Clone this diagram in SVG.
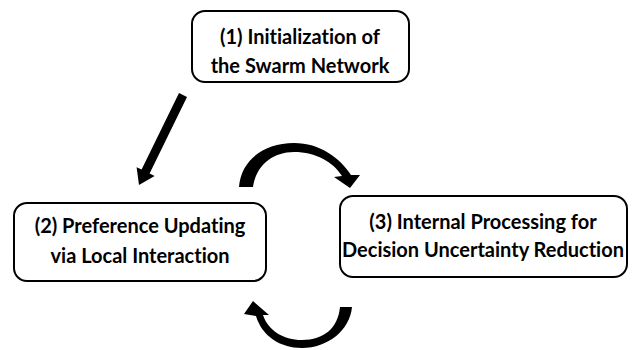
<svg xmlns="http://www.w3.org/2000/svg" width="637" height="350" viewBox="0 0 637 350">
<style>
.box{fill:#fff;stroke:#000;stroke-width:2}
.t{font-family:Lato,"Open Sans","Liberation Sans",sans-serif;font-weight:bold;font-size:20px;fill:#000;text-anchor:middle;font-variant-ligatures:none;font-feature-settings:"liga" 0}
.arr{fill:#000;stroke:none}
</style>
<rect width="637" height="350" fill="#fff"/>
<g id="node1">
<rect class="box" x="192" y="11" width="217" height="71" rx="13"/>
<text class="t" x="300" y="44">(1) Initialization of</text>
<text class="t" x="300" y="73">the Swarm Network</text>
</g>
<g id="node2">
<rect class="box" x="14" y="203" width="252" height="78" rx="13"/>
<text class="t" x="140" y="233">(2) Preference Updating</text>
<text class="t" x="140" y="263">via Local Interaction</text>
</g>
<g id="node3">
<rect class="box" x="340" y="196" width="287" height="81" rx="13"/>
<text class="t" x="483" y="229">(3) Internal Processing for</text>
<text class="t" x="483" y="257">Decision Uncertainty Reduction</text>
</g>
<g id="connectors">
<polygon class="arr" points="179,93 187,97 149.6,173.6 154.6,176 139,185 136.6,167.2 141.6,169.6"/>
<path class="arr" d="M239,187 C241,160 264,143 294,143 C320,143 340,158 351,175 L360,175 L350,188 L334,177 L342,176 C333,162 316,152 294,152 C272,152 256,166 253,187 Z"/>
<path class="arr" d="M352,307 C350,330 328,348 302,348 C280,348 262,336 256,316 L244,314 L253,301 L269,315 L263,315 C268,330 283,340 302,340 C324,340 338,328 340,307 Z"/>
</g>
</svg>
